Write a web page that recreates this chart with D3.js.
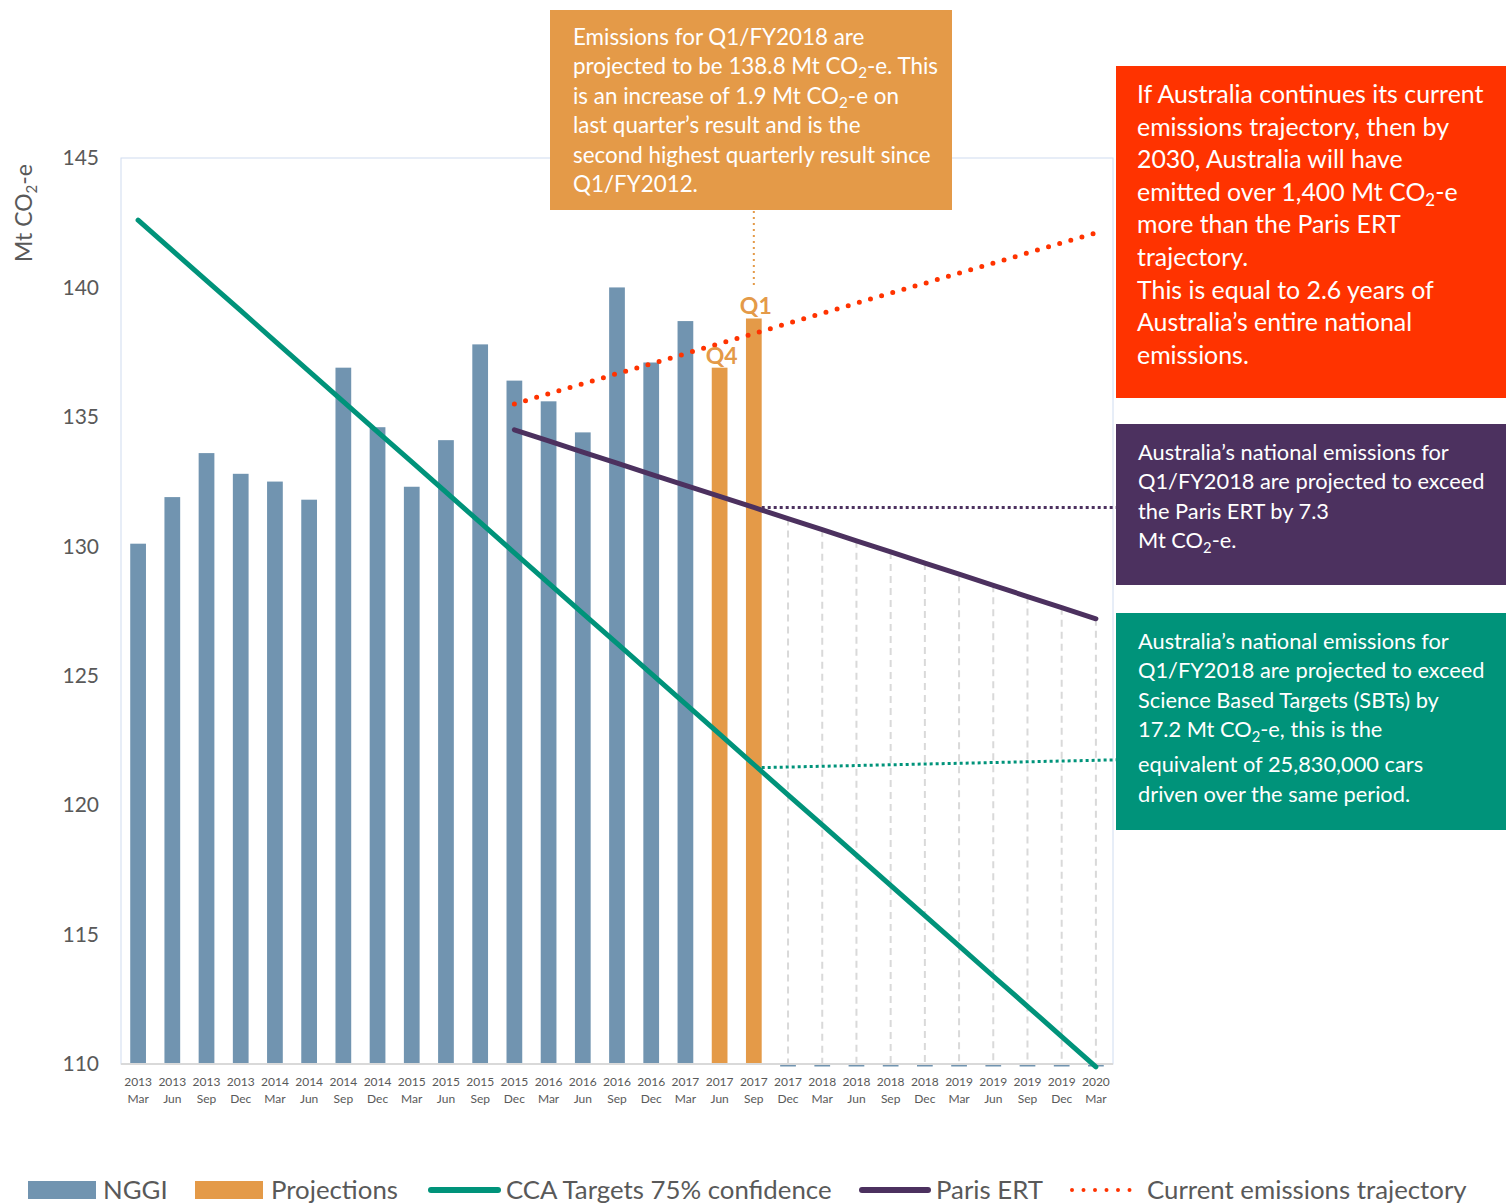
<!DOCTYPE html>
<html>
<head>
<meta charset="utf-8">
<script src="https://cdn.jsdelivr.net/npm/d3@7/dist/d3.min.js"></script>
<style>
  body { margin: 0; background: #fff; }
  svg { display: block; font-family: Lato, "Open Sans", sans-serif; }
</style>
</head>
<body>
<div id="chart"></div>
<script>
// Quarter labels (two-line ticks)
const years = ['2013', '2013', '2013', '2013', '2014', '2014', '2014', '2014', '2015', '2015',
  '2015', '2015', '2016', '2016', '2016', '2016', '2017', '2017', '2017', '2017',
  '2018', '2018', '2018', '2018', '2019', '2019', '2019', '2019', '2020'];
const months = ['Mar', 'Jun', 'Sep', 'Dec', 'Mar', 'Jun', 'Sep', 'Dec', 'Mar', 'Jun',
  'Sep', 'Dec', 'Mar', 'Jun', 'Sep', 'Dec', 'Mar', 'Jun', 'Sep', 'Dec',
  'Mar', 'Jun', 'Sep', 'Dec', 'Mar', 'Jun', 'Sep', 'Dec', 'Mar'];
const quarters = years.map((y, i) => y + ' ' + months[i]);

// Mt CO2-e
const nggi = [130.1, 131.9, 133.6, 132.8, 132.5, 131.8, 136.9, 134.6, 132.3, 134.1,
  137.8, 136.4, 135.6, 134.4, 140.0, 137.1, 138.7, null, null,
  0, 0, 0, 0, 0, 0, 0, 0, 0, 0];
const projections = [null, null, null, null, null, null, null, null, null, null,
  null, null, null, null, null, null, null, 136.9, 138.8,
  null, null, null, null, null, null, null, null, null, null];
const projectionLabels = ['2017 Jun', 'Q4', '2017 Sep', 'Q1'];
const ccaTargets = [142.60, 141.43, 140.26, 139.10, 137.93, 136.76, 135.59, 134.42, 133.26, 132.09,
  130.92, 129.75, 128.58, 127.41, 126.25, 125.08, 123.91, 122.74, 121.57, 120.40,
  119.24, 118.07, 116.90, 115.73, 114.56, 113.39, 112.23, 111.06, 109.89];
const parisErt = [null, null, null, null, null, null, null, null, null, null,
  null, 134.50, 134.07, 133.64, 133.21, 132.78, 132.35, 131.93, 131.50, 131.07,
  130.64, 130.21, 129.78, 129.35, 128.92, 128.49, 128.06, 127.63, 127.20];
const currentTrajectory = [null, null, null, null, null, null, null, null, null, null,
  null, 135.50, 135.89, 136.28, 136.67, 137.05, 137.44, 137.83, 138.22, 138.61,
  139.00, 139.39, 139.78, 140.16, 140.55, 140.94, 141.33, 141.72, 142.11];
const yTicks = [110, 115, 120, 125, 130, 135, 140, 145];

const orangeNote = ['Emissions for Q1/FY2018 are',
  'projected to be 138.8 Mt CO_2-e. This',
  'is an increase of 1.9 Mt CO_2-e on',
  'last quarter\u2019s result and is the',
  'second highest quarterly result since',
  'Q1/FY2012.'];
const redNote = ['If Australia continues its current',
  'emissions trajectory, then by',
  '2030, Australia will have',
  'emitted over 1,400 Mt CO_2-e',
  'more than the Paris ERT',
  'trajectory.',
  'This is equal to 2.6 years of',
  'Australia\u2019s entire national',
  'emissions.'];
const purpleNote = ['Australia\u2019s national emissions for',
  'Q1/FY2018 are projected to exceed',
  'the Paris ERT by 7.3',
  'Mt CO_2-e.'];
const tealNote = ['Australia\u2019s national emissions for',
  'Q1/FY2018 are projected to exceed',
  'Science Based Targets (SBTs) by',
  '17.2 Mt CO_2-e, this is the',
  'equivalent of 25,830,000 cars',
  'driven over the same period.'];

const C = {
  nggi: '#7194b0', proj: '#e49a48', cca: '#00937a', paris: '#4c315f',
  current: '#ff3300', text: '#595959', grid: '#d9d9d9', frame: '#cfdcf0'
};

const width = 1506, height = 1204;
const plot = { left: 121, right: 1113, top: 158, bottom: 1064 };

const svg = d3.select('#chart').append('svg')
  .attr('width', width).attr('height', height);

const x = d3.scaleBand().domain(quarters)
  .range([plot.left, plot.right])
  .paddingInner(0.54).paddingOuter(0.27);
const cx = q => x(q) + x.bandwidth() / 2;
const y = d3.scaleLinear().domain([110, 145]).range([plot.bottom, plot.top]);

// plot frame
svg.append('rect')
  .attr('x', plot.left).attr('y', plot.top)
  .attr('width', plot.right - plot.left).attr('height', plot.bottom - plot.top)
  .attr('fill', 'none').attr('stroke', C.frame).attr('stroke-width', 1);

// drop lines from Paris ERT
svg.append('g').selectAll('line')
  .data(quarters.map((q, i) => ({ q, v: parisErt[i] })).filter(d => d.v != null))
  .enter().append('line')
  .attr('x1', d => cx(d.q)).attr('x2', d => cx(d.q))
  .attr('y1', d => y(d.v)).attr('y2', plot.bottom)
  .attr('stroke', C.grid).attr('stroke-width', 2).attr('stroke-dasharray', '7,5');

// bars
function drawBars(values, color) {
  svg.append('g').selectAll('rect')
    .data(quarters.map((q, i) => ({ q, v: values[i] })).filter(d => d.v != null))
    .enter().append('rect')
    .attr('x', d => x(d.q))
    .attr('width', x.bandwidth())
    .attr('y', d => d.v > 110 ? y(d.v) : plot.bottom)
    .attr('height', d => d.v > 110 ? plot.bottom - y(d.v) : 2.5)
    .attr('fill', color);
}
drawBars(nggi, C.nggi);
drawBars(projections, C.proj);

// baseline
svg.append('line')
  .attr('x1', plot.left).attr('x2', plot.right)
  .attr('y1', plot.bottom).attr('y2', plot.bottom)
  .attr('stroke', C.grid).attr('stroke-width', 2);

// lines
function drawLine(values, color, dash) {
  const line = d3.line()
    .defined(d => d.v != null)
    .x(d => cx(d.q)).y(d => y(d.v));
  const p = svg.append('path')
    .datum(quarters.map((q, i) => ({ q, v: values[i] })))
    .attr('d', line)
    .attr('fill', 'none').attr('stroke', color)
    .attr('stroke-width', 5).attr('stroke-linecap', 'round')
    .attr('stroke-linejoin', 'round');
  if (dash) p.attr('stroke-dasharray', dash);
}
drawLine(ccaTargets, C.cca);
drawLine(parisErt, C.paris);
drawLine(currentTrajectory, C.current, '0,11.6');

// Q labels over the projection bars
for (let i = 0; i < projectionLabels.length; i += 2) {
  const q = projectionLabels[i];
  svg.append('text')
    .attr('x', cx(q) + 2).attr('y', y(projections[quarters.indexOf(q)]) - 4)
    .attr('text-anchor', 'middle')
    .attr('font-size', 23).attr('font-weight', 'bold')
    .attr('fill', C.proj)
    .text(projectionLabels[i + 1]);
}

// y axis
const yAxis = svg.append('g')
  .attr('transform', `translate(${plot.left - 22},0)`)
  .call(d3.axisLeft(y).tickValues(yTicks).tickSize(0).tickPadding(0));
yAxis.select('.domain').remove();
yAxis.selectAll('text')
  .attr('font-family', 'Lato, sans-serif')
  .attr('font-size', 21).attr('fill', C.text);

const yTitle = svg.append('text')
  .attr('transform', 'translate(32,213) rotate(-90)')
  .attr('text-anchor', 'middle')
  .attr('font-size', 23).attr('fill', C.text);
yTitle.append('tspan').text('Mt CO');
yTitle.append('tspan').attr('font-size', 15).attr('dy', 5).text('2');
yTitle.append('tspan').attr('dy', -5).text('-e');

// x axis (two-line labels)
const xAxis = svg.append('g')
  .attr('transform', `translate(0,${plot.bottom})`)
  .call(d3.axisBottom(x).tickSize(0).tickFormat(''));
xAxis.select('.domain').remove();
xAxis.selectAll('.tick').each(function (q) {
  const [yr, mo] = q.split(' ');
  const t = d3.select(this).append('text')
    .attr('text-anchor', 'middle')
    .attr('font-family', 'Lato, sans-serif')
    .attr('font-size', 12).attr('fill', C.text);
  t.append('tspan').attr('x', 0).attr('y', 22).text(yr);
  t.append('tspan').attr('x', 0).attr('y', 39).text(mo);
});

// annotation boxes
function noteBox(box, lines, color, opt) {
  svg.append('rect')
    .attr('x', box[0]).attr('y', box[1])
    .attr('width', box[2] - box[0]).attr('height', box[3] - box[1])
    .attr('fill', color);
  let yy = opt.y0;
  lines.forEach(ln => {
    const t = svg.append('text')
      .attr('x', opt.x).attr('y', yy)
      .attr('font-size', opt.size).attr('fill', '#fff');
    const parts = ln.split('_2');
    parts.forEach((p, k) => {
      const s = t.append('tspan').text(p);
      if (k > 0) s.attr('dy', -opt.sub);
      if (k < parts.length - 1) {
        t.append('tspan').attr('font-size', opt.size * 0.68)
          .attr('dy', opt.sub).text('2');
      }
    });
    yy += opt.dy + (parts.length > 1 ? opt.extra : 0);
  });
}

// connectors
svg.append('line')
  .attr('x1', cx('2017 Sep')).attr('x2', cx('2017 Sep'))
  .attr('y1', 211).attr('y2', 288)
  .attr('stroke', C.proj).attr('stroke-width', 2).attr('stroke-dasharray', '2,4');
svg.append('line')
  .attr('x1', x('2017 Sep') + x.bandwidth()).attr('x2', 1116)
  .attr('y1', y(parisErt[18])).attr('y2', y(parisErt[18]))
  .attr('stroke', C.paris).attr('stroke-width', 3).attr('stroke-dasharray', '3,3');
svg.append('line')
  .attr('x1', x('2017 Sep') + x.bandwidth()).attr('x2', 1116)
  .attr('y1', y(121.45)).attr('y2', y(121.75))
  .attr('stroke', C.cca).attr('stroke-width', 3).attr('stroke-dasharray', '3,3');

noteBox([550, 10, 952, 210], orangeNote, C.proj, { x: 573, y0: 45, dy: 29.4, size: 22.4, sub: 4, extra: 0 });
noteBox([1116, 66, 1506, 398], redNote, C.current, { x: 1137, y0: 103, dy: 32.6, size: 24.9, sub: 5, extra: 0 });
noteBox([1116, 424, 1506, 585], purpleNote, C.paris, { x: 1138, y0: 460, dy: 29.3, size: 21.8, sub: 5, extra: 0 });
noteBox([1116, 613, 1506, 830], tealNote, C.cca, { x: 1138, y0: 649, dy: 29.3, size: 21.8, sub: 5, extra: 6 });

// legend
const legendItems = [
  { label: 'NGGI', kind: 'rect', color: C.nggi, x0: 28, x1: 96, tx: 103 },
  { label: 'Projections', kind: 'rect', color: C.proj, x0: 195, x1: 263, tx: 271 },
  { label: 'CCA Targets 75% confidence', kind: 'line', color: C.cca, x0: 431, x1: 498, tx: 506 },
  { label: 'Paris ERT', kind: 'line', color: C.paris, x0: 862, x1: 928, tx: 936 },
  { label: 'Current emissions trajectory', kind: 'dots', color: C.current, x0: 1072, x1: 1134, tx: 1147 }
];
const ly = 1190;
const lg = svg.append('g');
legendItems.forEach(d => {
  if (d.kind === 'rect') {
    lg.append('rect').attr('x', d.x0).attr('y', ly - 9)
      .attr('width', d.x1 - d.x0).attr('height', 18).attr('fill', d.color);
  } else {
    const l = lg.append('line').attr('x1', d.x0).attr('x2', d.x1)
      .attr('y1', ly).attr('y2', ly).attr('stroke', d.color)
      .attr('stroke-linecap', 'round');
    if (d.kind === 'dots') l.attr('stroke-width', 4).attr('stroke-dasharray', '0,11.5');
    else l.attr('stroke-width', 6);
  }
  lg.append('text').attr('x', d.tx).attr('y', ly + 9)
    .attr('font-size', 25.8).attr('fill', C.text).text(d.label);
});
</script>
</body>
</html>
